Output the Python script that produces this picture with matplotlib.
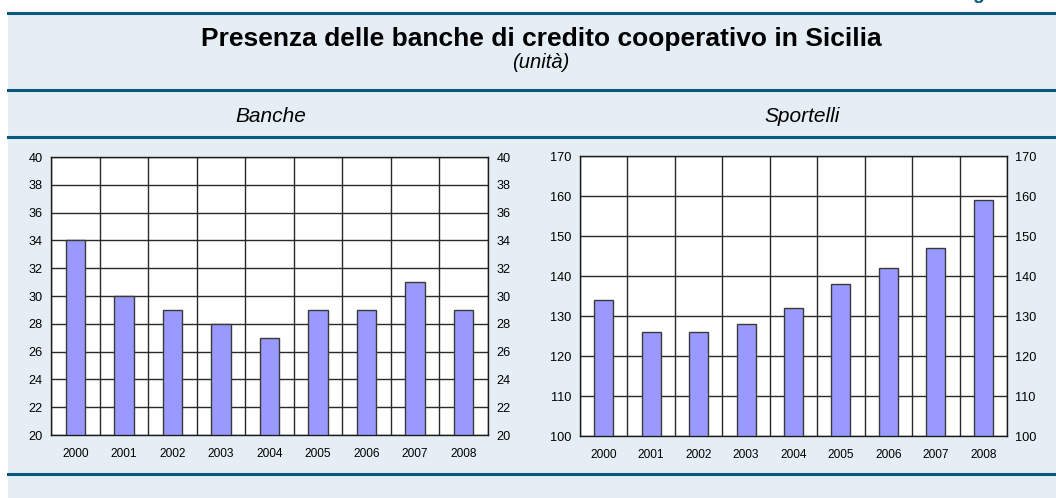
import matplotlib
matplotlib.use("Agg")
import matplotlib.pyplot as plt
from matplotlib.patches import Rectangle
from matplotlib.lines import Line2D
import numpy as np

plt.rcParams['font.family'] = ['Liberation Sans', 'DejaVu Sans']

# data
years = ['2000', '2001', '2002', '2003', '2004', '2005', '2006', '2007', '2008']
banche = [34, 30, 29, 28, 27, 29, 29, 31, 29]
sportelli = [134, 126, 126, 128, 132, 138, 142, 147, 159]
banche_ticks = [20, 22, 24, 26, 28, 30, 32, 34, 36, 38, 40]
sportelli_ticks = [100, 110, 120, 130, 140, 150, 160, 170]

title = 'Presenza delle banche di credito cooperativo in Sicilia'
subtitle = '(unità)'
panel_titles = ['Banche', 'Sportelli']

W, H = 1056, 498
bg = '#E6EEF5'
dark = '#0A5880'
bar_color = '#9999FF'

fig = plt.figure(figsize=(W / 100, H / 100), dpi=100)
fig.patch.set_facecolor('white')


def px(x, y):
    # pixel position (from top-left) to figure fraction
    return x / W, 1 - y / H


# light blue box
x0, y0 = px(8, 13)
fig.patches.append(Rectangle((x0, 0), 1 - x0, y0, transform=fig.transFigure,
                             facecolor=bg, edgecolor='none', zorder=-2))

# horizontal rules
for yy in [13, 90, 137, 474]:
    xa, ya = px(8, yy)
    fig.lines.append(Line2D([xa, 1], [ya, ya], transform=fig.transFigure,
                            color=dark, linewidth=2.2, zorder=-1))

# cut-off word at the top right
fig.text(*px(978, -1), 'g', color=dark, fontsize=14, fontweight='bold',
         ha='center', va='baseline')

fig.text(*px(541, 46), title, fontsize=19, fontweight='bold',
         ha='center', va='baseline')
fig.text(*px(541, 68), subtitle, fontsize=14.5, style='italic',
         ha='center', va='baseline')
fig.text(*px(271, 122), panel_titles[0], fontsize=15, style='italic',
         ha='center', va='baseline')
fig.text(*px(802, 122), panel_titles[1], fontsize=15, style='italic',
         ha='center', va='baseline')


def draw_panel(rect, values, ticks):
    l, t, r, b = rect
    ax = fig.add_axes([l / W, 1 - b / H, (r - l) / W, (b - t) / H])
    ax.set_facecolor('white')
    x = np.arange(len(years))
    ax.bar(x, [v - ticks[0] for v in values], bottom=ticks[0], width=0.4,
           color=bar_color, edgecolor='#3a3a3a', linewidth=1.0, zorder=3)
    ax.set_xlim(-0.5, len(years) - 0.5)
    ax.set_ylim(ticks[0], ticks[-1])
    ax.set_yticks(ticks)
    ax.set_xticks(x)
    ax.set_xticklabels(years)
    ax.set_xticks(np.arange(len(years) + 1) - 0.5, minor=True)
    ax.grid(axis='y', which='major', color='#2a2a2a', linewidth=1.0, zorder=1)
    ax.grid(axis='x', which='minor', color='#2a2a2a', linewidth=1.0, zorder=1)
    ax.tick_params(axis='y', which='both', length=0, labelsize=9.2,
                   labelright=True, pad=6)
    ax.tick_params(axis='x', which='both', length=0, labelsize=8.6, pad=9)
    for s in ax.spines.values():
        s.set_color('#1a1a1a')
        s.set_linewidth(1.0)
    ax.set_axisbelow(True)
    return ax


draw_panel((51, 157, 488, 435), banche, banche_ticks)
draw_panel((580, 156, 1007, 436), sportelli, sportelli_ticks)

fig.savefig('out.png', dpi=100, facecolor=fig.get_facecolor())
